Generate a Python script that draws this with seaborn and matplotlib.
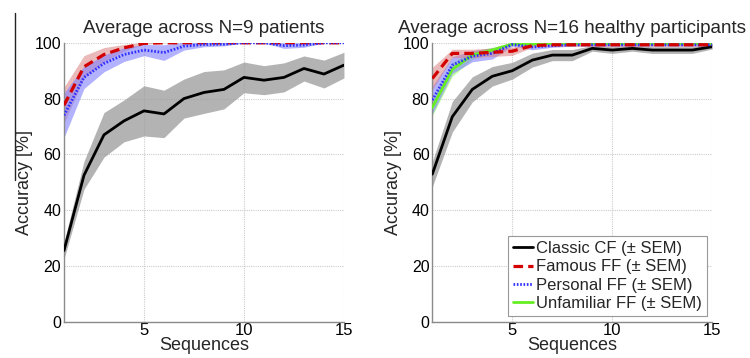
import numpy as np
import pandas as pd
import matplotlib
matplotlib.use("Agg")
import matplotlib.pyplot as plt
from matplotlib.lines import Line2D
import seaborn as sns

sequences = list(range(1, 16))

# Patients (N=9): mean accuracy and SEM per condition
pat_classic = [25.5, 52.5, 67.0, 72.0, 75.6, 74.5, 80.0, 82.2, 83.3, 87.6, 86.6, 87.6, 90.8, 88.8, 92.0]
pat_classic_sem = [3.0, 5.0, 8.0, 7.5, 9.0, 8.5, 7.0, 7.5, 7.0, 5.5, 5.2, 5.2, 4.5, 5.0, 4.6]
pat_famous = [77.6, 91.4, 95.8, 98.2, 99.8, 100, 100, 100, 100, 100, 100, 100, 100, 100, 100]
pat_famous_sem = [6.5, 4.0, 2.5, 1.2, 0.3, 0, 0, 0, 0, 0, 0, 0, 0, 0, 0]
pat_personal = [74.0, 87.6, 92.6, 95.8, 97.4, 96.5, 98.8, 99.4, 99.5, 100, 100, 99.0, 99.2, 100, 100]
pat_personal_sem = [8.0, 4.0, 3.0, 2.5, 2.0, 2.8, 1.4, 0.8, 0.6, 0, 0, 1.0, 0.8, 0, 0]

# Healthy participants (N=16)
hea_classic = [52.9, 73.5, 83.3, 88.0, 90.0, 93.8, 95.6, 95.6, 98.0, 97.4, 98.0, 97.4, 97.4, 97.4, 98.6]
hea_classic_sem = [4.5, 5.5, 4.5, 3.5, 3.0, 2.5, 2.0, 2.0, 1.0, 1.2, 1.0, 1.2, 1.2, 1.2, 0.8]
hea_famous = [87.2, 96.2, 96.2, 96.6, 97.0, 99.0, 99.3, 99.3, 99.3, 99.3, 99.3, 99.3, 99.3, 99.3, 99.3]
hea_famous_sem = [4.0, 1.5, 1.5, 1.5, 1.5, 0.6, 0.5, 0.5, 0.5, 0.5, 0.5, 0.5, 0.5, 0.5, 0.5]
hea_personal = [79.5, 92.0, 95.2, 96.2, 99.4, 98.5, 99.0, 99.3, 99.3, 99.3, 99.3, 99.3, 99.3, 99.3, 99.3]
hea_personal_sem = [5.0, 3.0, 2.0, 2.0, 0.6, 1.0, 0.6, 0.5, 0.5, 0.5, 0.5, 0.5, 0.5, 0.5, 0.5]
hea_unfamiliar = [76.8, 90.5, 95.6, 97.4, 99.6, 99.5, 99.8, 99.8, 99.8, 99.8, 99.8, 99.8, 99.8, 99.8, 99.8]
hea_unfamiliar_sem = [3.0, 2.5, 1.5, 1.0, 0.4, 0.4, 0.2, 0.2, 0.2, 0.2, 0.2, 0.2, 0.2, 0.2, 0.2]

condition_names = ["Classic CF (± SEM)", "Famous FF (± SEM)",
                   "Personal FF (± SEM)", "Unfamiliar FF (± SEM)"]
titles = ["Average across N=9 patients", "Average across N=16 healthy participants"]

styles = {
    condition_names[0]: dict(color="#000000", ls="-", lw=2.0, fill="#9a9a9a", alpha=0.75),
    condition_names[1]: dict(color="#d40000", ls=(0, (3, 1.6)), lw=2.3, fill="#d98080", alpha=0.55),
    condition_names[2]: dict(color="#3030ff", ls=(0, (0.6, 0.6)), lw=2.0, fill="#8080ff", alpha=0.6),
    condition_names[3]: dict(color="#66ee22", ls="-", lw=2.0, fill="#99ff66", alpha=0.6),
}

panels = [
    [(condition_names[0], pat_classic, pat_classic_sem),
     (condition_names[1], pat_famous, pat_famous_sem),
     (condition_names[2], pat_personal, pat_personal_sem)],
    [(condition_names[0], hea_classic, hea_classic_sem),
     (condition_names[3], hea_unfamiliar, hea_unfamiliar_sem),
     (condition_names[2], hea_personal, hea_personal_sem),
     (condition_names[1], hea_famous, hea_famous_sem)],
]

sns.set_theme(style="white")
plt.rcParams["font.family"] = ["Liberation Sans", "DejaVu Sans"]

fig = plt.figure(figsize=(7.5, 3.58), dpi=100)
axes = [fig.add_axes([0.0853, 0.1014, 0.3733, 0.779]),
        fig.add_axes([0.5764, 0.1014, 0.3733, 0.779])]

for ax, panel, title in zip(axes, panels, titles):
    # bands first, then lines on top
    for name, mean, sem in panel:
        st = styles[name]
        m = np.array(mean)
        s = np.array(sem)
        ax.fill_between(sequences, m - s, np.minimum(m + s, 100.5),
                        color=st["fill"], alpha=st["alpha"], lw=0, zorder=2)
    for name, mean, sem in panel:
        st = styles[name]
        df = pd.DataFrame({"Sequences": sequences, "Accuracy": mean})
        sns.lineplot(data=df, x="Sequences", y="Accuracy", ax=ax,
                     color=st["color"], lw=st["lw"], linestyle=st["ls"],
                     zorder=3, legend=False)
    ax.set_xlim(1, 15)
    ax.set_ylim(0, 100)
    ax.set_xticks([5, 10, 15])
    ax.set_yticks([0, 20, 40, 60, 80, 100])
    ax.grid(True, color="#cccccc", ls=(0, (1, 1)), lw=0.8)
    ax.set_axisbelow(True)
    for side in ["top", "right"]:
        ax.spines[side].set_visible(False)
    for side in ["left", "bottom"]:
        ax.spines[side].set_color("#8a8a8a")
        ax.spines[side].set_linewidth(1.0)
    ax.tick_params(axis="x", labelsize=12, colors="#000000", length=0, pad=1)
    ax.tick_params(axis="y", labelsize=11.5, colors="#000000", length=0, pad=2)
    ax.set_xlabel("Sequences", fontsize=13, labelpad=-1)
    ax.set_ylabel("Accuracy [%]", fontsize=13, labelpad=1)
    ax.set_title(title, fontsize=13.6, pad=7)

handles = [Line2D([], [], color=styles[n]["color"], lw=styles[n]["lw"],
                  linestyle=styles[n]["ls"]) for n in condition_names]
leg = axes[1].legend(handles, condition_names, loc="lower right",
                     bbox_to_anchor=(0.982, 0.02), fontsize=12,
                     handlelength=1.2, handletextpad=0.2, labelspacing=0.2,
                     borderpad=0.3, borderaxespad=0.0, fancybox=False,
                     framealpha=1.0, edgecolor="#999999")
leg.get_frame().set_linewidth(0.8)

# rule along the left edge of the first panel
fig.add_artist(Line2D([15 / 750, 15 / 750], [1 - 13 / 358, 1 - 180 / 358],
                      color="#222222", lw=1.0, transform=fig.transFigure))

fig.savefig("out.png", dpi=100)
